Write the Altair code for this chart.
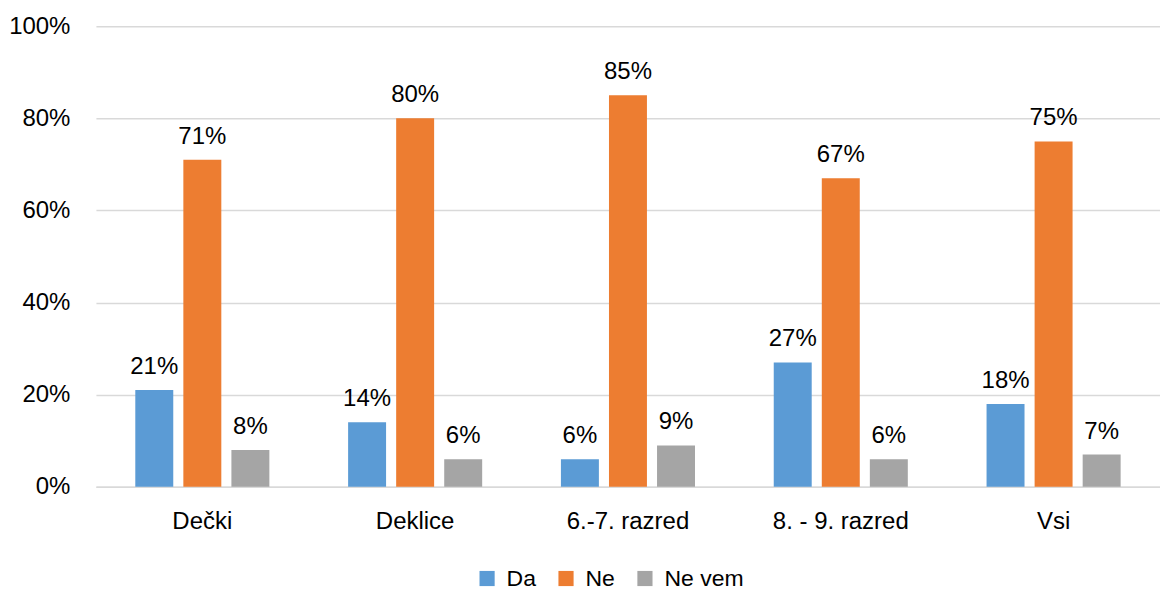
import altair as alt
import pandas as pd

categories = ["Dečki", "Deklice", "6.-7. razred", "8. - 9. razred", "Vsi"]
series = ["Da", "Ne", "Ne vem"]
da = [0.21, 0.14, 0.06, 0.27, 0.18]
ne = [0.71, 0.80, 0.85, 0.67, 0.75]
ne_vem = [0.08, 0.06, 0.09, 0.06, 0.07]
colors = ["#5B9BD5", "#ED7D31", "#A5A5A5"]

rows = []
for i, c in enumerate(categories):
    for s, vals in zip(series, [da, ne, ne_vem]):
        rows.append({"cat": c, "series": s, "value": vals[i]})
df = pd.DataFrame(rows)

FONT = "Liberation Sans, Arial, sans-serif"
FS = 24

x = alt.X("cat:N", sort=categories, title=None,
          scale=alt.Scale(paddingInner=0.37, paddingOuter=0.185),
          axis=alt.Axis(labelAngle=0, ticks=False, labelPadding=23, labelFontSize=FS,
                        labelFont=FONT, labelColor="#000000", domainColor="#d9d9d9",
                        domainWidth=1.5, grid=False))
xo = alt.XOffset("series:N", sort=series, scale=alt.Scale(paddingInner=0.21, paddingOuter=0))
y = alt.Y("value:Q", title=None,
          scale=alt.Scale(domain=[0, 1], nice=False),
          axis=alt.Axis(values=[0, 0.2, 0.4, 0.6, 0.8, 1.0], format=".0%", domain=False,
                        ticks=False, labelPadding=26, labelFontSize=FS, labelFont=FONT,
                        labelColor="#000000", gridColor="#d9d9d9", gridWidth=1.5))
color = alt.Color("series:N", sort=series,
                  scale=alt.Scale(domain=series, range=colors),
                  legend=alt.Legend(title=None, orient="none", legendX=380, legendY=541,
                                    direction="horizontal",
                                    symbolType="square", symbolSize=230, symbolStrokeWidth=0,
                                    labelFontSize=23, labelFont=FONT, labelColor="#000000",
                                    columnPadding=18, labelOffset=8))

bars = alt.Chart(df).mark_bar().encode(x=x, xOffset=xo, y=y, color=color)
labels = alt.Chart(df).mark_text(baseline="alphabetic", dy=-16, fontSize=FS, font=FONT,
                                 color="#000000").encode(
    x=x, xOffset=xo, y=y, text=alt.Text("value:Q", format=".0%"))

chart = (bars + labels).properties(
    width=1065, height=461,
    padding={"left": 0, "top": 6, "right": 0, "bottom": 0},
).configure(background="white").configure_view(stroke=None, strokeWidth=0)

chart.save("out.html", embed_options={"renderer": "svg", "actions": False})
